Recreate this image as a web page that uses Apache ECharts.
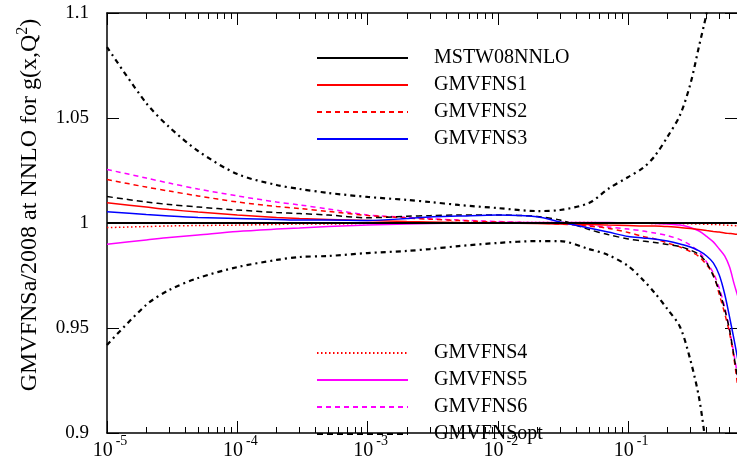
<!DOCTYPE html>
<html><head><meta charset="utf-8">
<script src="https://cdn.jsdelivr.net/npm/echarts@6/dist/echarts.min.js"></script>
<style>html,body{margin:0;padding:0;background:#fff}#c{width:737px;height:471px}</style>
</head><body><div id="c"></div>
<script>
// ---- data (ratio to MSTW08NNLO gluon) ----
const xValues = [1e-5,2e-5,3e-5,5e-5,1e-4,2e-4,3e-4,5e-4,1e-3,2e-3,3e-3,5e-3,1e-2,2e-2,3e-2,5e-2,7e-2,0.1,0.13,0.16,0.2,0.25,0.3,0.35,0.4,0.45,0.5,0.55,0.6,0.65,0.7];
const mstw     = [1,1,1,1,1,1,1,1,1,1,1,1,1,1,1,1,1,1,1,1,1,1,1,1,1,1,1,1,1,1,1];
const bandUpper= [1.0838,1.0571,1.0457,1.0343,1.0233,1.0181,1.0162,1.0143,1.0124,1.0110,1.0100,1.0086,1.0071,1.0057,1.0062,1.0095,1.0162,1.0219,1.0262,1.0319,1.0410,1.0514,1.0662,1.0843,1.1000,1.118,1.14,1.16,1.18,1.20,1.22];
const bandLower= [0.9419,0.9610,0.9681,0.9738,0.9790,0.9824,0.9838,0.9843,0.9857,0.9867,0.9876,0.9890,0.9905,0.9914,0.9914,0.9876,0.9848,0.9795,0.9729,0.9667,0.9590,0.9505,0.9348,0.9167,0.8920,0.870,0.85,0.83,0.81,0.79,0.77];
const gm1 = [1.0097,1.0076,1.0064,1.0052,1.0038,1.0026,1.0021,1.0017,1.0012,1.0007,1.0005,1.0002,1.0000,0.9998,0.9995,0.9993,0.9990,0.9988,0.9986,0.9986,0.9983,0.9979,0.9974,0.9969,0.9964,0.9960,0.9957,0.9952,0.9950,0.9948,0.9945];
const gm2 = [1.0207,1.0171,1.0152,1.0129,1.0100,1.0079,1.0069,1.0055,1.0036,1.0024,1.0018,1.0012,1.0004,1.0000,0.9995,0.9985,0.9975,0.9955,0.9936,0.9924,0.9905,0.9886,0.9864,0.9840,0.9800,0.9755,0.9660,0.9570,0.9475,0.9350,0.9200];
const gm3 = [1.0054,1.0040,1.0033,1.0026,1.0021,1.0017,1.0014,1.0014,1.0012,1.0021,1.0029,1.0033,1.0038,1.0030,1.0005,0.9976,0.9957,0.9936,0.9929,0.9924,0.9914,0.9900,0.9886,0.9867,0.9843,0.9810,0.9752,0.9662,0.9552,0.9443,0.9338];
const gm4 = [0.9978,0.9983,0.9986,0.9988,0.9990,0.9993,0.9995,0.9995,0.9998,1.0000,1.0001,1.0002,1.0002,1.0002,1.0002,1.0002,1.0001,1.0000,0.9999,0.9998,0.9998,0.9997,0.9996,0.9995,0.9994,0.9993,0.9992,0.9990,0.9989,0.9988,0.9986];
const gm5 = [0.9899,0.9919,0.9931,0.9943,0.9960,0.9971,0.9976,0.9983,0.9990,0.9995,0.9998,1.0000,1.0002,1.0002,1.0002,1.0002,1.0002,1.0001,1.0000,0.9998,0.9995,0.9990,0.9979,0.9962,0.9936,0.9910,0.9876,0.9843,0.9790,0.9710,0.9643];
const gm6 = [1.0255,1.0214,1.0190,1.0162,1.0129,1.0100,1.0086,1.0067,1.0038,1.0027,1.0021,1.0014,1.0007,1.0000,0.9997,0.9988,0.9981,0.9971,0.9962,0.9952,0.9940,0.9921,0.9895,0.9862,0.9814,0.9762,0.9690,0.9600,0.9490,0.9371,0.9252];
const gmOpt=[1.0126,1.0100,1.0088,1.0076,1.0062,1.0050,1.0045,1.0038,1.0025,1.0032,1.0035,1.0038,1.0038,1.0031,1.0014,0.9969,0.9945,0.9924,0.9914,0.9907,0.9898,0.9888,0.9871,0.9850,0.9810,0.9748,0.9676,0.9590,0.9490,0.9362,0.9238];

const xMin = 1e-5, xMax = 0.684;
const decadeExponents = [-5,-4,-3,-2,-1];
const minorMultipliers = [2,3,4,5,6,7,8,9];
const yTicks = {min:0.9, max:1.1, step:0.05};
const yTitle = '{n|GMVFNSa/2008 at NNLO for g(x,Q}{s|2}{n|)}';
const legendTop = ['MSTW08NNLO','GMVFNS1','GMVFNS2','GMVFNS3'];
const legendBottom = ['GMVFNS4','GMVFNS5','GMVFNS6','GMVFNSopt'];

const FONT = '"Liberation Serif","Times New Roman",serif';
const minorLog = [];
decadeExponents.forEach(e => minorMultipliers.forEach(m => {
  const v = Math.log10(m) + e; if (v < Math.log10(xMax)) minorLog.push(v);
}));
const pairs = ys => xValues.map((x,i) => [x, ys[i]]);

function line(name, ys, color, type, width, z) {
  return {name, type:'line', data:pairs(ys), symbol:'none', showSymbol:false, xAxisIndex:0, yAxisIndex:0,
    smooth:0.3, lineStyle:{color, type, width}, itemStyle:{color}, z:z||2, animation:false, clip:true};
}

const blackLine = () => ({show:true, onZero:false, lineStyle:{color:'#000', width:1.5}});
const majorTick = () => ({show:true, inside:true, length:12, lineStyle:{color:'#000', width:1}});
const minorTickX = () => ({show:true, inside:true, length:6, customValues:minorLog.slice(), lineStyle:{color:'#000', width:1}});

const xLabel = {
  show:true, margin:8,
  showMaxLabel:false, color:'#000',
  formatter: v => {
    const e = Math.log10(v), r = Math.round(e);
    if (Math.abs(e - r) > 1e-6 || decadeExponents.indexOf(r) < 0) return '';
    return '{b|10}{s|' + r + '}';
  },
  rich: {
    b:{fontFamily:FONT, fontSize:20, color:'#000', lineHeight:20, padding:[0,0,0,6]},
    s:{fontFamily:FONT, fontSize:14, color:'#000', lineHeight:14, padding:[0,0,20,3]}
  }
};

const legendBase = () => ({
  orient:'vertical', left:316, itemWidth:91, itemHeight:14, itemGap:7, padding:0,
  selectedMode:false, itemStyle:{opacity:0},
  textStyle:{fontFamily:FONT, fontSize:20, color:'#000', padding:[0,0,0,21]}
});

const option = {
  backgroundColor:'#fff',
  animation:false,
  grid:{left:107, top:13, width:630, height:420},
  legend:[
    Object.assign(legendBase(), {top:48, data:legendTop}),
    Object.assign(legendBase(), {top:343, data:legendBottom})
  ],
  graphic:[{
    type:'text', x:30, y:205, rotation:Math.PI/2, silent:true,
    style:{text:yTitle, align:'center', verticalAlign:'middle', fill:'#000',
      fontFamily:FONT, fontSize:24,
      rich:{n:{fontFamily:FONT, fontSize:24, fill:'#000', lineHeight:30},
            s:{fontFamily:FONT, fontSize:16, fill:'#000', lineHeight:16, padding:[0,0,14,0]}}}
  }],
  xAxis:[
    {type:'log', logBase:10, min:xMin, max:xMax, position:'bottom',
     axisLine:blackLine(), axisTick:majorTick(), axisLabel:xLabel, splitLine:{show:false}},
    {type:'value', min:Math.log10(xMin), max:Math.log10(xMax), position:'bottom',
     axisLine:{show:false}, axisTick:minorTickX(), axisLabel:{show:false}, splitLine:{show:false}},
    {type:'log', logBase:10, min:xMin, max:xMax, position:'top',
     axisLine:blackLine(), axisTick:majorTick(), axisLabel:{show:false}, splitLine:{show:false}},
    {type:'value', min:Math.log10(xMin), max:Math.log10(xMax), position:'top',
     axisLine:{show:false}, axisTick:minorTickX(), axisLabel:{show:false}, splitLine:{show:false}}
  ],
  yAxis:[
    {type:'value', min:yTicks.min, max:yTicks.max, interval:yTicks.step, position:'left',
     axisLine:blackLine(), axisTick:majorTick(), splitLine:{show:false},
     axisLabel:{show:true, fontFamily:FONT, fontSize:19, color:'#000', margin:18}},
    {type:'value', min:yTicks.min, max:yTicks.max, interval:yTicks.step, position:'right',
     axisLine:{show:false, onZero:false}, axisTick:majorTick(), axisLabel:{show:false}, splitLine:{show:false}}
  ],
  series:[
    line('MSTW08NNLO upper', bandUpper, '#000', [5,4,2,4], 2.2, 1),
    line('MSTW08NNLO lower', bandLower, '#000', [5,4,2,4], 2.2, 1),
    line('GMVFNS4', gm4, '#ff0000', [1.5,2.5], 1.5),
    line('GMVFNS5', gm5, '#ff00ff', 'solid', 1.5),
    line('GMVFNS6', gm6, '#ff00ff', [5,4], 1.5),
    line('GMVFNS2', gm2, '#ff0000', [5,4], 1.5),
    line('GMVFNSopt', gmOpt, '#000', [6,4], 1.5),
    line('GMVFNS1', gm1, '#ff0000', 'solid', 1.5),
    line('GMVFNS3', gm3, '#0000ff', 'solid', 1.5),
    line('MSTW08NNLO', mstw, '#000', 'solid', 2, 3)
  ]
};
const chart = echarts.init(document.getElementById('c'), null, {renderer:'canvas'});
chart.setOption(option);
</script></body></html>
